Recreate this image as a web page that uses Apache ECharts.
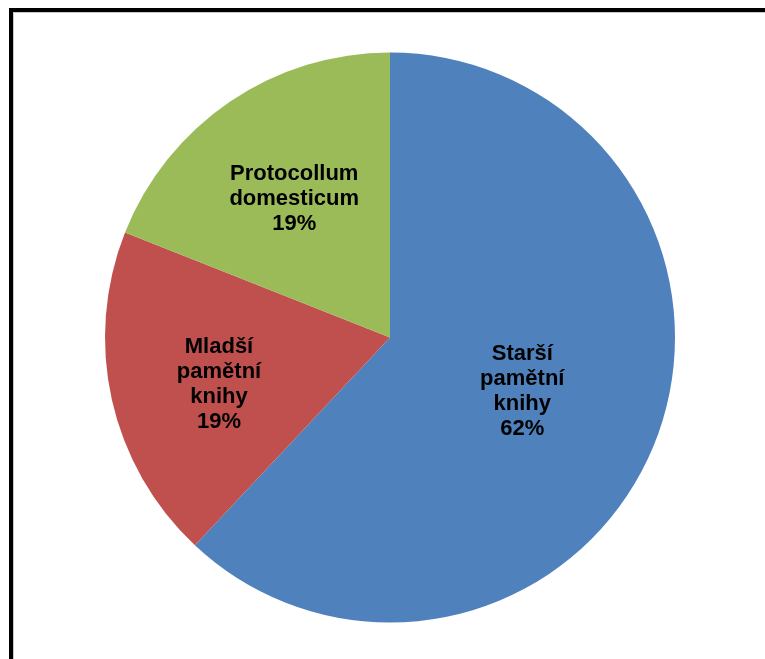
<!DOCTYPE html>
<html>
<head>
<meta charset="utf-8">
<script src="https://cdn.jsdelivr.net/npm/echarts@6/dist/echarts.min.js"></script>
<style>
  html, body { margin: 0; padding: 0; background: #fff; }
  #chart { width: 765px; height: 659px; }
</style>
</head>
<body>
<div id="chart"></div>
<script>
// Share of source types
var categories = ['Starší pamětní knihy', 'Mladší pamětní knihy', 'Protocollum domesticum'];
var shares = [62, 19, 19];
var sliceColors = ['#4F81BD', '#C0504D', '#9BBB59'];

// Fine-tune label placement inside each slice
var labelShift = [[-3, 0], [-29, 15], [-14, -18]];

var chart = echarts.init(document.getElementById('chart'), null, { renderer: 'canvas' });

chart.setOption({
  backgroundColor: '#ffffff',
  animation: false,
  graphic: [
    {
      type: 'rect',
      shape: { x: 11, y: 10, width: 800, height: 700 },
      style: { fill: 'none', stroke: '#000000', lineWidth: 4 },
      silent: true,
      z: 10
    },
    {
      type: 'polyline',
      shape: { points: [[13.5, 700], [13.5, 12.5], [800, 12.5]] },
      style: { fill: 'none', stroke: '#c8c8c8', lineWidth: 1 },
      silent: true,
      z: 10
    }
  ],
  series: [{
    type: 'pie',
    center: [390, 337.5],
    radius: [0, 285],
    startAngle: 90,
    clockwise: true,
    data: categories.map(function (name, i) {
      return { name: name, value: shares[i], itemStyle: { color: sliceColors[i] } };
    }),
    label: {
      show: true,
      position: 'inside',
      color: '#000000',
      fontFamily: 'Liberation Sans, Arial, sans-serif',
      fontWeight: 'bold',
      fontSize: 22,
      lineHeight: 25,
      align: 'center',
      formatter: function (p) {
        return p.name.split(' ').join('\n') + '\n' + Math.round(p.percent) + '%';
      }
    },
    labelLayout: function (p) {
      var s = labelShift[p.dataIndex];
      return { dx: s[0], dy: s[1] };
    },
    labelLine: { show: false },
    emphasis: { disabled: true }
  }]
});
</script>
</body>
</html>
